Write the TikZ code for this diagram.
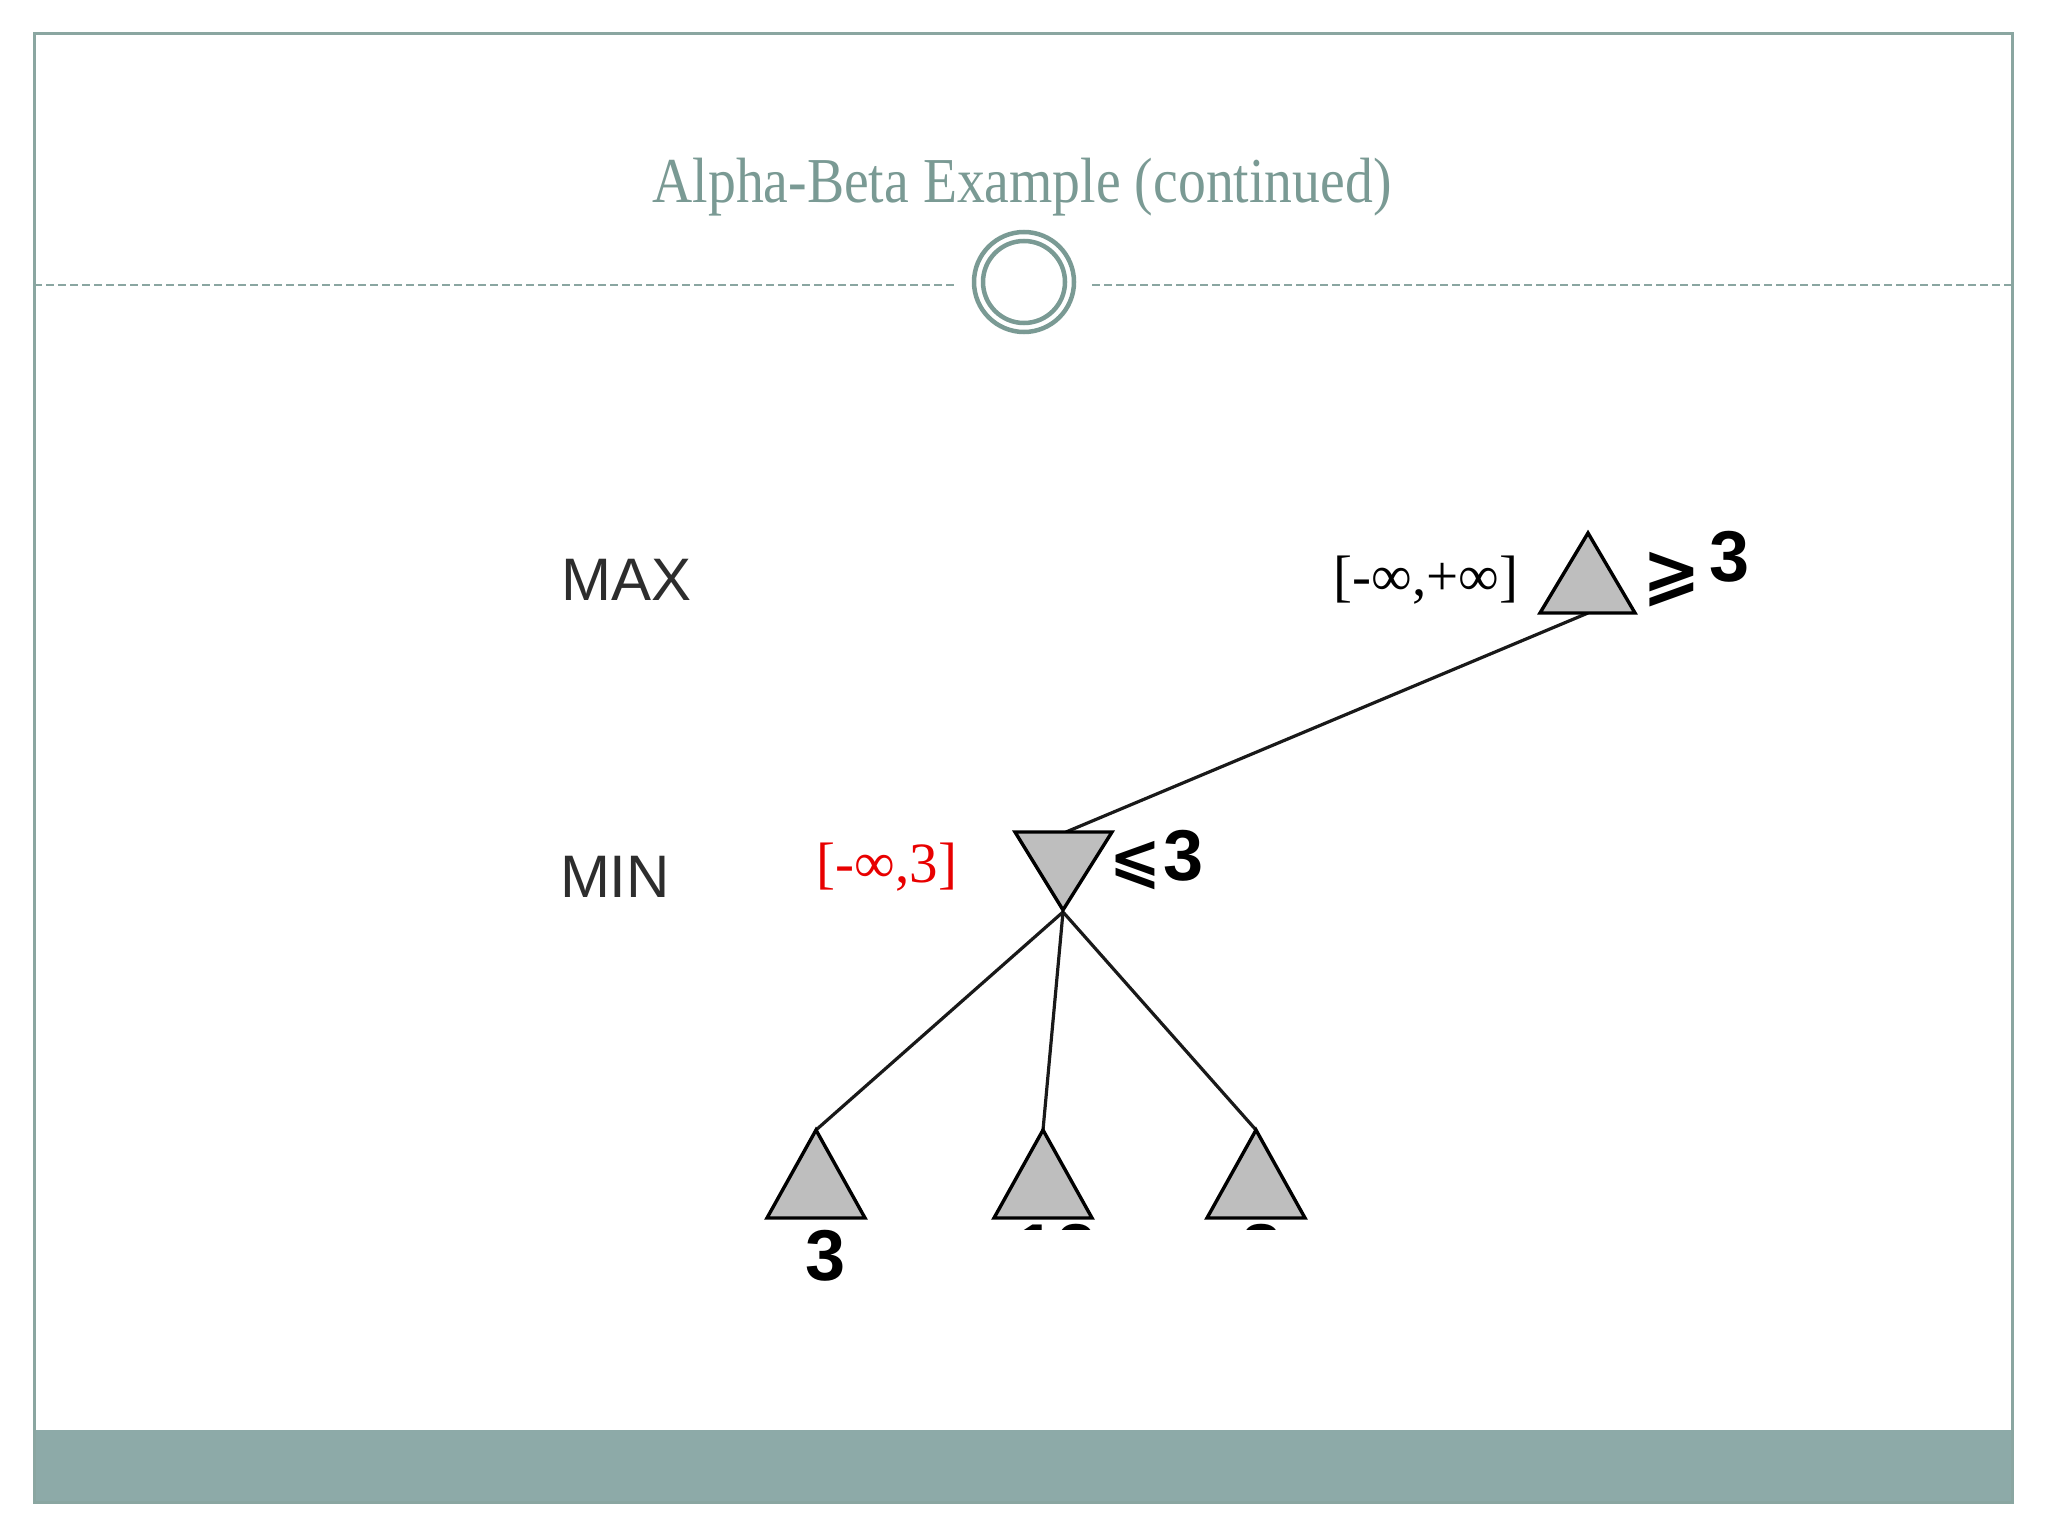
\documentclass[tikz,border=0pt]{standalone}
\usepackage{fontspec}
\setmainfont{Liberation Serif}
\newfontfamily\sansf{Liberation Sans}
\newfontfamily\symf{DejaVu Sans}
\definecolor{framec}{RGB}{138,166,161}
\definecolor{barc}{RGB}{141,170,168}
\definecolor{titlec}{RGB}{122,154,148}
\definecolor{trific}{RGB}{190,190,190}
\definecolor{redc}{RGB}{232,0,0}
\definecolor{labc}{RGB}{45,45,45}
\tikzset{
  trinode/.style={fill=trific, draw=black, line width=3.4pt, line join=miter},
  edgeline/.style={draw=black!90, line width=3.2pt},
  levellab/.style={inner sep=0pt, anchor=base, text=labc, font=\sansf\fontsize{60}{70}\selectfont},
  boundlab/.style={inner sep=0pt, anchor=base, font=\fontsize{57}{66}\selectfont},
  valnum/.style={inner sep=0pt, anchor=base, font=\sansf\bfseries\fontsize{72}{80}\selectfont},
  relsym/.style={inner sep=0pt, anchor=base, font=\symf\bfseries\fontsize{70}{78}\selectfont},
}
\begin{document}
\begin{tikzpicture}[x=1pt,y=-1pt]
\useasboundingbox (0,0) rectangle (2048,1536);
% frame and footer bar
\fill[barc] (34,1430) rectangle (2012,1502);
\draw[framec, line width=3pt] (34,34) rectangle (2012,1502);
% title
\node[inner sep=0pt, anchor=base, text=titlec, font=\fontsize{64}{72}\selectfont] (title) at (1022,202) {\scalebox{0.87}[1]{Alpha-Beta Example (continued)}};
% divider
\coordinate (cc) at (1024,282);
\coordinate (dl0) at (34,285);
\coordinate (dl1) at (956,285);
\coordinate (dr0) at (1092,285);
\coordinate (dr1) at (2012,285);
\draw[framec, line width=2pt, dash pattern=on 8pt off 4pt] (dl0) -- (dl1);
\draw[framec, line width=2pt, dash pattern=on 8pt off 4pt] (dr0) -- (dr1);
\draw[titlec, line width=4.5pt] (cc) circle[radius=50];
\draw[titlec, line width=4.5pt] (cc) circle[radius=41];
% level labels
\node[levellab] (maxlab) at (627,600) {MAX};
\node[levellab] (minlab) at (615,897) {MIN};
% tree coordinates
\coordinate (maxA) at (1588,533);
\coordinate (maxL) at (1540,613);
\coordinate (maxR) at (1635,613);
\coordinate (maxB) at (1588,613);
\coordinate (minL) at (1015,832);
\coordinate (minR) at (1112,832);
\coordinate (minT) at (1066,832);
\coordinate (minA) at (1063,910);
\coordinate (minC) at (1063,912);
\foreach \n/\x in {a/816,b/1043,c/1256}{
  \coordinate (leaf\n) at (\x,1130);
  \coordinate (leaf\n L) at (\x-49,1218);
  \coordinate (leaf\n R) at (\x+49,1218);
}
% edges
\draw[edgeline] (maxB) -- (minT);
\draw[edgeline] (minC) -- (leafa);
\draw[edgeline] (minC) -- (leafb);
\draw[edgeline] (minC) -- (leafc);
% triangles
\filldraw[trinode] (maxA) -- (maxL) -- (maxR) -- cycle;
\filldraw[trinode] (minL) -- (minR) -- (minA) -- cycle;
\filldraw[trinode] (leafa) -- (leafaL) -- (leafaR) -- cycle;
\filldraw[trinode] (leafb) -- (leafbL) -- (leafbR) -- cycle;
\filldraw[trinode] (leafc) -- (leafcL) -- (leafcR) -- cycle;
% bounds
\node[boundlab] (maxbound) at (1426,595) {[-∞,+∞]};
\node[boundlab, text=redc] (minbound) at (887,882) {[-∞,3]};
% values
\node[relsym] (maxrel) at (1672,596) {⩾};
\node[valnum] (maxval) at (1730,581) {3};
\node[relsym, font=\symf\bfseries\fontsize{62}{70}\selectfont] (minrel) at (1135,880) {⩽};
\node[valnum] (minval) at (1184,880) {3};
\node[valnum] (leafaval) at (826,1280) {3};
\begin{scope}
\clip (900,1220) rectangle (1320,1229);
\node[valnum] (leafbval) at (1056,1274) {12};
\node[valnum] (leafcval) at (1262,1274) {8};
\end{scope}
\end{tikzpicture}
\end{document}
